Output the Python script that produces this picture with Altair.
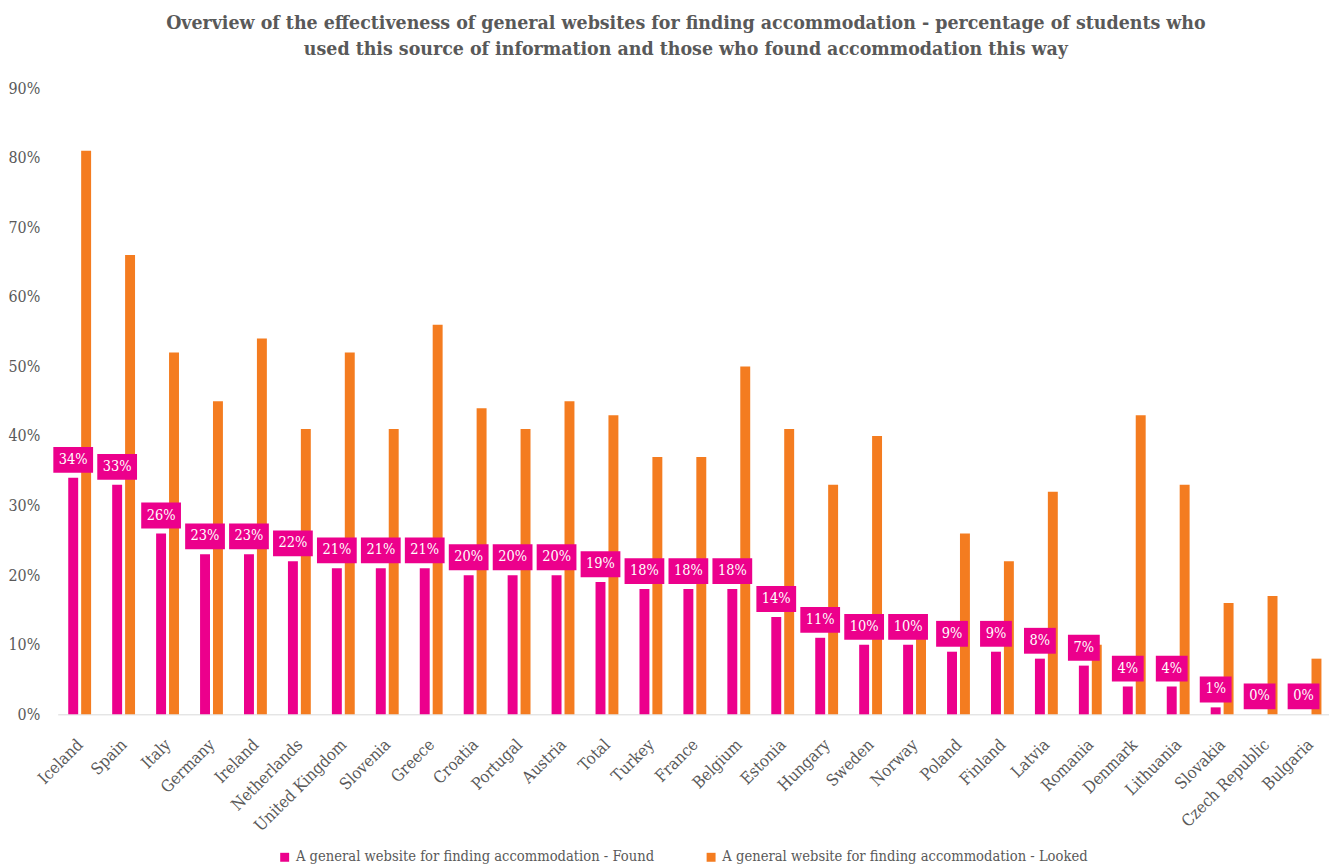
import altair as alt
import pandas as pd

countries = ["Iceland", "Spain", "Italy", "Germany", "Ireland", "Netherlands",
             "United Kingdom", "Slovenia", "Greece", "Croatia", "Portugal", "Austria",
             "Total", "Turkey", "France", "Belgium", "Estonia", "Hungary", "Sweden",
             "Norway", "Poland", "Finland", "Latvia", "Romania", "Denmark",
             "Lithuania", "Slovakia", "Czech Republic", "Bulgaria"]
found = [34, 33, 26, 23, 23, 22, 21, 21, 21, 20, 20, 20, 19, 18, 18, 18, 14, 11,
         10, 10, 9, 9, 8, 7, 4, 4, 1, 0, 0]
looked = [81, 66, 52, 45, 54, 41, 52, 41, 56, 44, 41, 45, 43, 37, 37, 50, 41, 33,
          40, 11, 26, 22, 32, 10, 43, 33, 16, 17, 8]
series_names = ["A general website for finding accommodation - Found",
                "A general website for finding accommodation - Looked"]
y_ticks = [0, 10, 20, 30, 40, 50, 60, 70, 80, 90]

PINK = "#EC008C"
ORANGE = "#F47C20"
GRAY = "#595959"
FONT = "DejaVu Serif Condensed"

df = pd.DataFrame({"country": countries, "found": found, "looked": looked})

x = alt.X("country:N", sort=countries, title=None,
          scale=alt.Scale(range=[15, 1297]),
          axis=alt.Axis(labelAngle=-45, labelFontSize=16.5, labelColor=GRAY, labelFont=FONT,
                        ticks=False, domainColor="#d9d9d9", labelPadding=22, labelOffset=-5,
                        labelLimit=300))
yscale = alt.Scale(domain=[0, 90], nice=False)
color = alt.Color("series:N", title=None,
                  scale=alt.Scale(domain=series_names, range=[PINK, ORANGE]),
                  legend=alt.Legend(orient="none", legendX=236, legendY=766,
                                    direction="horizontal", symbolType="square",
                                    symbolSize=81, labelFontSize=14.7, labelColor=GRAY, labelFont=FONT,
                                    labelLimit=500, columnPadding=50, labelOffset=4,
                                    symbolStrokeWidth=0))

base = alt.Chart(df)

found_bars = base.transform_calculate(series=f'"{series_names[0]}"').mark_bar(
    width=10, xOffset=-6.5).encode(
    x=x,
    y=alt.Y("found:Q", scale=yscale, title=None,
            axis=alt.Axis(values=y_ticks, labelExpr="datum.value + '%'", grid=False, domain=False,
                          ticks=False, labelFontSize=16, labelColor=GRAY, labelFont=FONT,
                          labelPadding=3)),
    color=color,
)

looked_bars = base.transform_calculate(series=f'"{series_names[1]}"').mark_bar(
    width=10, xOffset=6.5).encode(
    x=x,
    y=alt.Y("looked:Q", scale=yscale),
    color=color,
)

box_wide = base.transform_filter("datum.found >= 10").mark_bar(
    width=40, xOffset=-6.5, yOffset=-5, y2Offset=-31, color=PINK).encode(
    x=x, y=alt.Y("found:Q", scale=yscale), y2="found:Q")

box_narrow = base.transform_filter("datum.found < 10").mark_bar(
    width=32, xOffset=-6.5, yOffset=-5, y2Offset=-31, color=PINK).encode(
    x=x, y=alt.Y("found:Q", scale=yscale), y2="found:Q")

labels = base.transform_calculate(lbl="datum.found + '%'").mark_text(
    xOffset=-6.5, dy=-18, baseline="middle", align="center", color="white",
    fontSize=14.5, font=FONT).encode(
    x=x, y=alt.Y("found:Q", scale=yscale), text="lbl:N")

chart = alt.layer(found_bars, looked_bars, box_wide, box_narrow, labels).properties(
    width=1294, height=630,
    padding={"left": 0, "right": 0, "top": 2, "bottom": 0},
    title=alt.TitleParams(
        ["Overview of the effectiveness of general websites for finding accommodation - percentage of students who",
         "used this source of information and those who found accommodation this way"],
        fontSize=19.5, font=FONT, fontWeight="bold", color=GRAY, lineHeight=26,
        anchor="middle", offset=21),
).configure_view(stroke=None)

chart.save("out.html", embed_options={"renderer": "svg", "actions": False})
